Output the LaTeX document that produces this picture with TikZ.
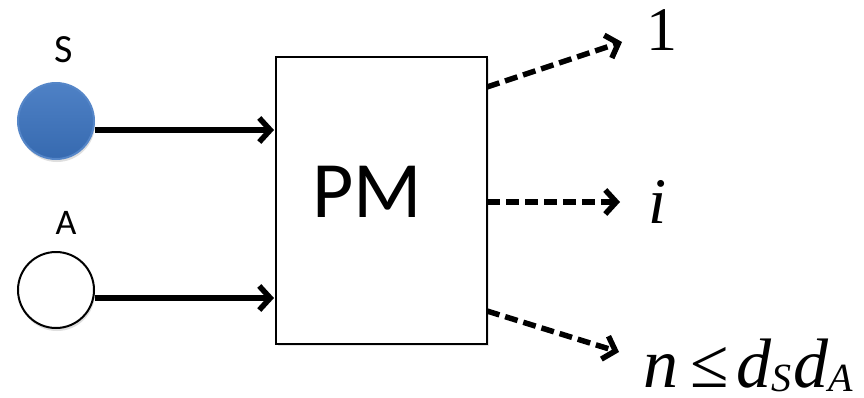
\documentclass[tikz,border=0pt]{standalone}
\usepackage{fontspec}
\setmainfont{Liberation Serif}
\newfontfamily\labelfont{Carlito}
\usetikzlibrary{arrows.meta,shadows}
\definecolor{ballblue}{HTML}{3B73BF}
\definecolor{ballrim}{HTML}{5586C8}
\tikzset{
  barb/.style={-{Straight Barb[length=11pt,width=24pt,line width=5.5pt]}},
  feed/.style={line width=5.5pt, barb},
  outflow/.style={line width=5.5pt, dash pattern=on 13pt off 6pt, barb},
  ball/.style={circle, minimum size=76pt, inner sep=0pt, line width=2pt,
    drop shadow={opacity=0.25, shadow xshift=1pt, shadow yshift=-3pt}},
  soft/.style={drop shadow={opacity=0.2, shadow xshift=2pt, shadow yshift=-2pt}},
}
\newcommand{\lowsub}[1]{\raisebox{-4pt}{\fontsize{40}{40}\selectfont #1}}
\begin{document}
\begin{tikzpicture}[x=1pt,y=-1pt]
\useasboundingbox (0,0) rectangle (864,397);
% input systems
\node[ball, draw=ballrim, top color=ballblue!90!white, bottom color=ballblue!92!black] (S) at (56,121) {};
\node[ball, draw=black, fill=white] (A) at (56,290) {};
\node[font=\labelfont\fontsize{40}{40}\selectfont] (Slab) at (64,50) {S};
\node[font=\labelfont\fontsize{36}{36}\selectfont] (Alab) at (66,223) {A};
% the map
\node[draw, fill=white, soft, line width=2pt, minimum width=211pt, minimum height=287pt,
  anchor=north west, inner sep=0pt] (PM) at (275,56) {};
\node[font=\labelfont\fontsize{80}{80}\selectfont] (PMlab) at (367,192) {PM};
% inputs
\coordinate (s1) at (95,130);
\coordinate (s2) at (274,130);
\coordinate (a1) at (95,298);
\coordinate (a2) at (274,298);
\draw[feed] (s1) -- (s2);
\draw[feed] (a1) -- (a2);
% outputs
\coordinate (o1) at (487,87);
\coordinate (t1) at (622,42);
\coordinate (o2) at (487,202);
\coordinate (t2) at (620,202);
\coordinate (o3) at (487,311);
\coordinate (t3) at (619,352);
\draw[outflow] (o1) -- (t1);
\draw[outflow] (o2) -- (t2);
\draw[outflow] (o3) -- (t3);
\node[font=\fontsize{62}{62}\selectfont, anchor=base west, inner sep=0pt] (one) at (646,50) {1};
\node[font=\itshape\fontsize{65}{65}\selectfont, anchor=base west, inner sep=0pt] (ith) at (648,223) {i};
\node[font=\itshape\fontsize{70}{70}\selectfont, anchor=base west, inner sep=0pt] (bound) at (643,387)
  {\raisebox{0pt}[\height][0pt]{n\hspace{12pt}{\upshape\fontsize{70}{70}\selectfont ≤}\hspace{8pt}d\lowsub{S}\hspace{2pt}d\lowsub{A}}};
\end{tikzpicture}
\end{document}
